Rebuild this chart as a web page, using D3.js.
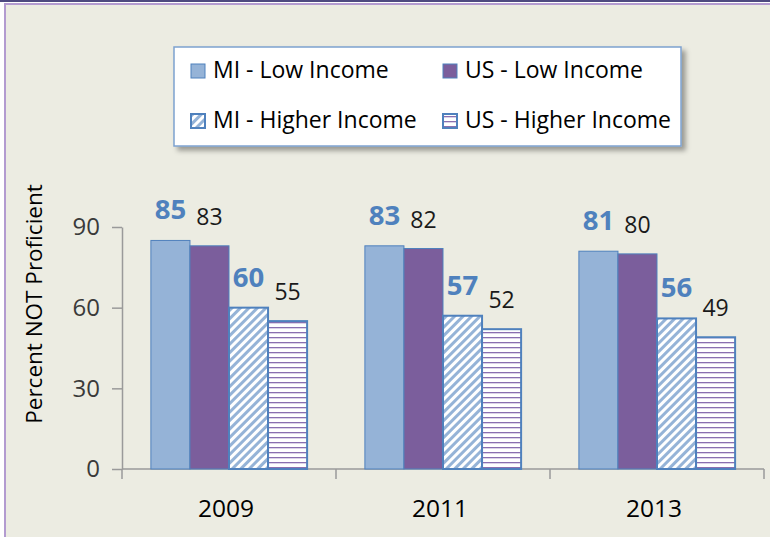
<!DOCTYPE html>
<html>
<head>
<meta charset="utf-8">
<script src="https://cdn.jsdelivr.net/npm/d3@7"></script>
<style>
  body { margin: 0; background: #fff; }
  svg { display: block; font-family: "Open Sans", sans-serif; }
</style>
</head>
<body>
<script>
// Data
const years = ["2009", "2011", "2013"];
const seriesNames = ["MI - Low Income", "US - Low Income", "MI - Higher Income", "US - Higher Income"];
const miLow = [85, 83, 81];
const usLow = [83, 82, 80];
const miHigh = [60, 57, 56];
const usHigh = [55, 52, 49];
const yTicks = [0, 30, 60, 90];

const width = 770, height = 537;
const margin = {top: 227, right: 6, bottom: 68, left: 122};

const series = [miLow, usLow, miHigh, usHigh];
const rows = years.map((year, i) => ({year, values: series.map((s, k) => ({key: seriesNames[k], k, value: s[i]}))}));

const svg = d3.select("body").append("svg")
    .attr("width", width)
    .attr("height", height);

const defs = svg.append("defs");

// diagonal hatch (MI higher)
const diag = defs.append("pattern")
    .attr("id", "diag")
    .attr("patternUnits", "userSpaceOnUse")
    .attr("width", 6)
    .attr("height", 6)
    .attr("patternTransform", "rotate(45)");
diag.append("rect").attr("width", 6).attr("height", 6).attr("fill", "#fff");
diag.append("rect").attr("width", 3).attr("height", 6).attr("fill", "#95b3d7");

// horizontal lines (US higher)
const horiz = defs.append("pattern")
    .attr("id", "horiz")
    .attr("patternUnits", "userSpaceOnUse")
    .attr("width", 8)
    .attr("height", 5);
horiz.append("rect").attr("width", 8).attr("height", 5).attr("fill", "#fff");
horiz.append("rect").attr("y", 2).attr("width", 8).attr("height", 1.3).attr("fill", "#8a6fb0");

const shadow = defs.append("filter")
    .attr("id", "shadow")
    .attr("x", "-10%").attr("y", "-20%")
    .attr("width", "130%").attr("height", "150%");
shadow.append("feDropShadow")
    .attr("dx", 4).attr("dy", 4)
    .attr("stdDeviation", 2.5)
    .attr("flood-color", "#000")
    .attr("flood-opacity", 0.35);

const fills = ["#95b3d7", "#7b5e9c", "url(#diag)", "url(#horiz)"];
const strokeW = [1, 1, 2, 2];

// frame and background
svg.append("rect").attr("width", width).attr("height", height).attr("fill", "#fff");
svg.append("rect").attr("x", 4).attr("y", 3).attr("width", width).attr("height", height).attr("fill", "#b39bd0");
svg.append("rect").attr("x", 6).attr("y", 5).attr("width", width).attr("height", height).attr("fill", "#ecece2");
svg.append("rect").attr("width", width).attr("height", 2).attr("fill", "#4e4a80");

// scales
const x0 = d3.scaleBand()
    .domain(years)
    .range([margin.left, width - margin.right]);

const x1 = d3.scaleBand()
    .domain(d3.range(4))
    .range([0, x0.bandwidth()])
    .paddingOuter(0.74);

const y = d3.scaleLinear()
    .domain([0, 90])
    .range([height - margin.bottom, margin.top]);

// y axis
const yAxis = svg.append("g")
    .attr("transform", `translate(${margin.left},0)`)
    .call(d3.axisLeft(y).tickValues(yTicks).tickSize(10).tickPadding(12).tickSizeOuter(0));
yAxis.select(".domain").attr("stroke", "#9a9a9a").attr("stroke-width", 1.5);
yAxis.selectAll(".tick line").attr("stroke", "#9a9a9a").attr("stroke-width", 1.5);
yAxis.selectAll(".tick text")
    .attr("fill", "#3a3a3a")
    .style("font-size", "24px")
    .style("font-family", "Open Sans");

// x axis
const xAxis = svg.append("g")
    .attr("transform", `translate(0,${y(0)})`);
xAxis.append("line")
    .attr("x1", x0.range()[0]).attr("x2", x0.range()[1])
    .attr("stroke", "#9a9a9a").attr("stroke-width", 1.5);
const bounds = years.map(d => x0(d)).concat([x0.range()[1]]);
xAxis.selectAll("line.tk")
  .data(bounds)
  .join("line")
    .attr("class", "tk")
    .attr("x1", d => d).attr("x2", d => d)
    .attr("y1", 0).attr("y2", 10)
    .attr("stroke", "#9a9a9a").attr("stroke-width", 1.5);
xAxis.selectAll("text")
  .data(years)
  .join("text")
    .attr("x", d => x0(d) + x0.bandwidth() / 2 - 3)
    .attr("y", 48)
    .attr("text-anchor", "middle")
    .attr("fill", "#000")
    .style("font-size", "24.5px")
    .text(d => d);

// y title
svg.append("text")
    .attr("transform", `translate(42,${304}) rotate(-90)`)
    .attr("text-anchor", "middle")
    .attr("fill", "#000")
    .style("font-size", "22.5px")
    .text("Percent NOT Proficient");

// bars
const group = svg.append("g")
  .selectAll("g")
  .data(rows)
  .join("g")
    .attr("transform", d => `translate(${x0(d.year)},0)`);

group.selectAll("rect")
  .data(d => d.values)
  .join("rect")
    .attr("x", d => x1(d.k))
    .attr("y", d => y(d.value))
    .attr("width", x1.bandwidth())
    .attr("height", d => y(0) - y(d.value))
    .attr("fill", d => fills[d.k])
    .attr("stroke", "#4f81bd")
    .attr("stroke-width", d => strokeW[d.k]);

group.selectAll("text")
  .data(d => d.values)
  .join("text")
    .attr("x", d => x1(d.k) + x1.bandwidth() / 2)
    .attr("y", d => y(d.value) - 21)
    .attr("text-anchor", "middle")
    .attr("fill", d => d.k % 2 === 0 ? "#4f81bd" : "#1a1a1a")
    .style("font-weight", d => d.k % 2 === 0 ? "bold" : "normal")
    .style("font-size", d => d.k % 2 === 0 ? "27.5px" : "23px")
    .text(d => d.value);

// legend
const legend = svg.append("g");
legend.append("rect")
    .attr("x", 174).attr("y", 47)
    .attr("width", 507).attr("height", 99)
    .attr("fill", "#fff")
    .attr("stroke", "#7ea2d0")
    .attr("stroke-width", 1.5)
    .attr("filter", "url(#shadow)");

const legPos = [[191, 64], [443, 64], [191, 114], [443, 114]];
const item = legend.selectAll("g.item")
  .data(seriesNames)
  .join("g")
    .attr("class", "item")
    .attr("transform", (d, i) => `translate(${legPos[i][0]},${legPos[i][1]})`);
item.append("rect")
    .attr("width", 14).attr("height", 14)
    .attr("fill", (d, i) => fills[i])
    .attr("stroke", "#4f81bd")
    .attr("stroke-width", (d, i) => strokeW[i]);
item.append("text")
    .attr("x", 22).attr("y", 14)
    .attr("fill", "#000")
    .style("font-size", "23px")
    .text(d => d);
</script>
</body>
</html>
